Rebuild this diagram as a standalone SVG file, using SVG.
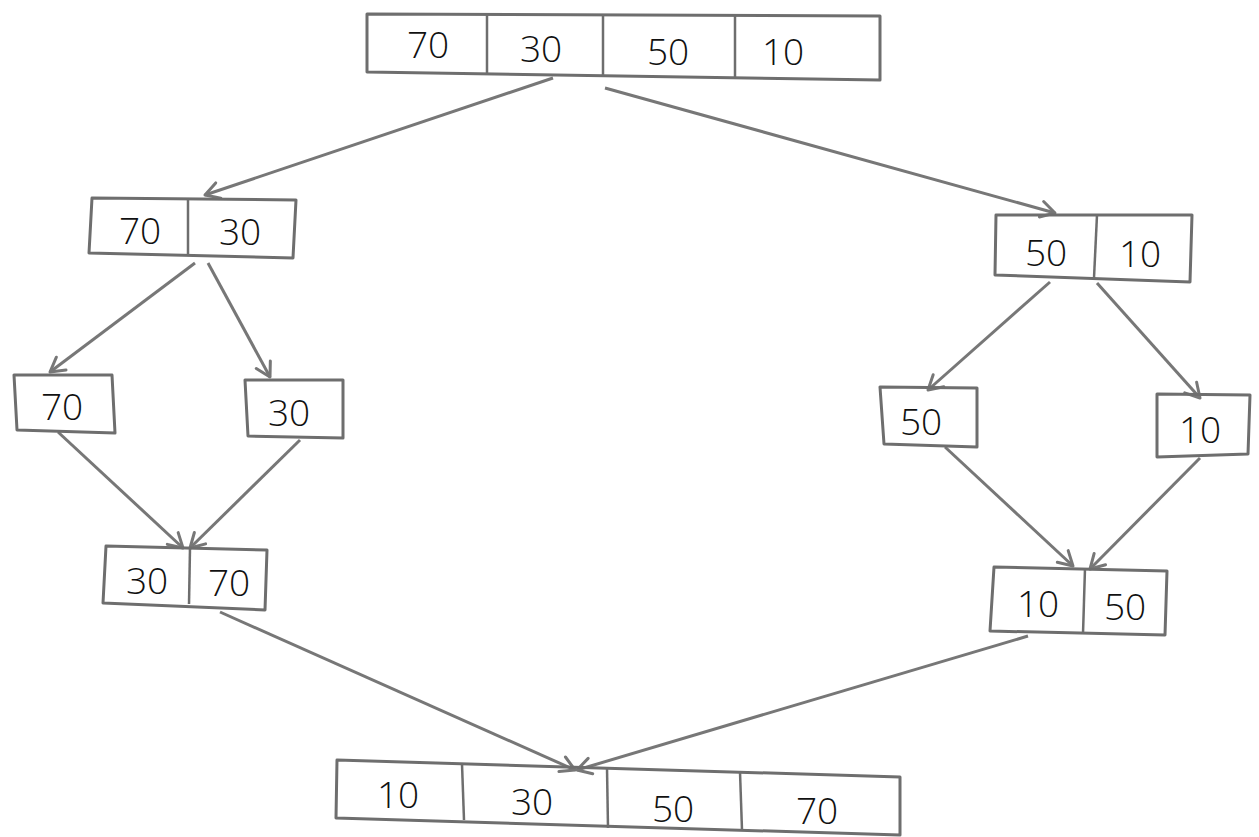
<svg xmlns="http://www.w3.org/2000/svg" width="1259" height="837" viewBox="0 0 1259 837">
<style>
.box{fill:none;stroke:#6e6e6e;stroke-width:3;stroke-linejoin:round}
.div{stroke:#6e6e6e;stroke-width:2.5}
.t{font-family:"Open Sans","DejaVu Sans",sans-serif;font-weight:300;font-size:37px;fill:#111;text-anchor:middle}
.c{stroke:#777;stroke-width:3;fill:none;marker-end:url(#ah)}
</style>
<defs>
<marker id="ah" viewBox="0 0 20 20" refX="18" refY="10" markerWidth="20" markerHeight="20" markerUnits="userSpaceOnUse" orient="auto">
<path d="M4,2 L18,10 L4,18" fill="none" stroke="#777" stroke-width="3" stroke-linecap="round" stroke-linejoin="round"/>
</marker>
</defs>
<rect width="1259" height="837" fill="#fff"/>
<g id="connectors">
<line class="c" x1="553" y1="78" x2="205" y2="195"/>
<line class="c" x1="605" y1="88" x2="1055" y2="213"/>
<line class="c" x1="195" y1="263" x2="50" y2="372"/>
<line class="c" x1="208" y1="263" x2="270" y2="377"/>
<line class="c" x1="1050" y1="282" x2="928" y2="390"/>
<line class="c" x1="1097" y1="283" x2="1200" y2="398"/>
<line class="c" x1="58" y1="432" x2="183" y2="548"/>
<line class="c" x1="300" y1="440" x2="190" y2="548"/>
<line class="c" x1="945" y1="447" x2="1073" y2="566"/>
<line class="c" x1="1200" y1="458" x2="1090" y2="569"/>
<line class="c" x1="220" y1="612" x2="575" y2="770"/>
<line class="c" x1="1028" y1="636" x2="577" y2="770"/>
</g>
<g id="n_top">
<path class="box" d="M367,14 L880,16 L880,80 L367,72 Z"/>
<line class="div" x1="487" y1="15" x2="487" y2="73"/>
<line class="div" x1="603" y1="15" x2="603" y2="77"/>
<line class="div" x1="735" y1="16" x2="735" y2="78"/>
<text class="t" x="428" y="58">70</text>
<text class="t" x="541" y="62">30</text>
<text class="t" x="668" y="65">50</text>
<text class="t" x="783" y="65">10</text>
</g>
<g id="n_l2">
<path class="box" d="M92,198 L296,200 L293,258 L89,253 Z"/>
<line class="div" x1="188" y1="199" x2="188" y2="255"/>
<text class="t" x="140" y="244">70</text>
<text class="t" x="240" y="245">30</text>
</g>
<g id="n_r2">
<path class="box" d="M996,215 L1192,215 L1190,282 L995,275 Z"/>
<line class="div" x1="1097" y1="215" x2="1094" y2="278"/>
<text class="t" x="1046" y="266">50</text>
<text class="t" x="1140" y="267">10</text>
</g>
<g id="n_70">
<path class="box" d="M14,375 L112,375 L115,433 L17,430 Z"/>
<text class="t" x="62" y="420">70</text>
</g>
<g id="n_30">
<path class="box" d="M245,380 L343,380 L343,438 L248,436 Z"/>
<text class="t" x="289" y="426">30</text>
</g>
<g id="n_50">
<path class="box" d="M880,387 L977,388 L977,447 L884,444 Z"/>
<text class="t" x="921" y="435">50</text>
</g>
<g id="n_10">
<path class="box" d="M1157,394 L1250,395 L1248,454 L1157,457 Z"/>
<text class="t" x="1200" y="443">10</text>
</g>
<g id="n_l4">
<path class="box" d="M106,546 L267,550 L265,610 L103,603 Z"/>
<line class="div" x1="190" y1="548" x2="189" y2="604"/>
<text class="t" x="147" y="594">30</text>
<text class="t" x="229" y="596">70</text>
</g>
<g id="n_r4">
<path class="box" d="M994,567 L1167,571 L1165,635 L990,631 Z"/>
<line class="div" x1="1085" y1="568" x2="1083" y2="634"/>
<text class="t" x="1038" y="617">10</text>
<text class="t" x="1125" y="620">50</text>
</g>
<g id="n_bottom">
<path class="box" d="M337,760 L900,777 L900,835 L336,818 Z"/>
<line class="div" x1="462" y1="764" x2="464" y2="820"/>
<line class="div" x1="607" y1="768" x2="608" y2="828"/>
<line class="div" x1="740" y1="772" x2="742" y2="830"/>
<text class="t" x="398" y="808">10</text>
<text class="t" x="532" y="815">30</text>
<text class="t" x="673" y="822">50</text>
<text class="t" x="817" y="824">70</text>
</g>
</svg>
